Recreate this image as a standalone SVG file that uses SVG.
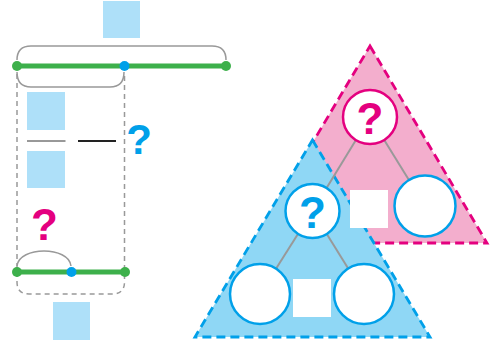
<svg xmlns="http://www.w3.org/2000/svg" width="491" height="343" viewBox="0 0 491 343">
<defs>
<style>
.box{fill:#aee0f9}
.wbox{fill:#ffffff}
.brace{fill:none;stroke:#999999;stroke-width:1.5}
.dash{fill:none;stroke:#999999;stroke-width:1.5;stroke-dasharray:5,4}
.seg{stroke:#3db04b;stroke-width:5;stroke-linecap:round}
.gdot{fill:#3db04b}
.bdot{fill:#00a0e9}
.q{font-family:"Liberation Sans",Arial,sans-serif;font-weight:bold;text-anchor:middle}
.qb{fill:#00a0e9}
.qp{fill:#e4007f}
.tri-p{fill:#f3aecd;stroke:#e4007f;stroke-width:2.8;stroke-dasharray:9,5;stroke-linejoin:miter}
.tri-b{fill:#8fd7f5;stroke:#00a0e9;stroke-width:2.8;stroke-dasharray:9,5;stroke-linejoin:miter}
.edge{stroke:#999999;stroke-width:2}
.cb{fill:#ffffff;stroke:#00a0e9;stroke-width:2.5}
.cp{fill:#ffffff;stroke:#e4007f;stroke-width:2.5}
</style>
</defs>

<g id="segment-diagram">
  <rect class="box" x="103" y="1" width="37" height="37"/>
  <path class="brace" d="M17,60 Q17,46 31,46 L212,46 Q226,46 226,60"/>
  <path class="brace" d="M17,72 Q17,87 31,87 L110,87 Q124,87 124,72"/>
  <path class="dash" d="M17,74 L17,282 Q17,294 29,294 L112,294 Q124.5,294 124.5,282 L124.5,74"/>
  <line class="seg" x1="17" y1="66" x2="226" y2="66"/>
  <circle class="gdot" cx="17" cy="66" r="5"/>
  <circle class="gdot" cx="226" cy="66" r="5"/>
  <circle class="bdot" cx="124.5" cy="66" r="5"/>

  <rect class="box" x="27" y="92" width="38" height="38"/>
  <line x1="27" y1="141" x2="65.5" y2="141" stroke="#333333" stroke-width="1"/>
  <rect class="box" x="27" y="151" width="38" height="37"/>
  <line x1="78" y1="141" x2="116" y2="141" stroke="#222222" stroke-width="2.2"/>
  <text class="q qb" x="139" y="154" font-size="42">?</text>

  <text class="q qp" x="44.5" y="240" font-size="44">?</text>
  <path class="brace" d="M17,266 C19,246 69,246 71,266"/>
  <line class="seg" x1="17" y1="272" x2="125" y2="272"/>
  <circle class="gdot" cx="17" cy="272" r="5"/>
  <circle class="gdot" cx="125" cy="272" r="5"/>
  <circle class="bdot" cx="71.5" cy="272" r="5"/>
  <rect class="box" x="53" y="302" width="37" height="38"/>
</g>

<g id="triangle-pink">
  <polygon class="tri-p" points="370,46 487,243 253,243"/>
</g>
<g id="triangle-blue">
  <polygon class="tri-b" points="312.5,140 430,337 195,337"/>
</g>

<g id="connectors">
  <line class="edge" x1="370" y1="117" x2="312.5" y2="211"/>
  <line class="edge" x1="370" y1="117" x2="425" y2="206"/>
  <line class="edge" x1="312.5" y1="211" x2="260" y2="294"/>
  <line class="edge" x1="312.5" y1="211" x2="364" y2="294"/>
</g>

<g id="node-top">
  <circle class="cp" cx="370" cy="117" r="27"/>
  <text class="q qp" x="370" y="134" font-size="44">?</text>
</g>
<g id="node-right">
  <circle class="cb" cx="425" cy="206" r="30.5"/>
</g>
<g id="square-upper">
  <rect class="wbox" x="350" y="190" width="38" height="38"/>
</g>
<g id="node-mid">
  <circle class="cb" cx="312.5" cy="211" r="27"/>
  <text class="q qb" x="312.5" y="228" font-size="44">?</text>
</g>
<g id="node-left-bottom">
  <circle class="cb" cx="260" cy="294" r="30"/>
</g>
<g id="node-right-bottom">
  <circle class="cb" cx="364" cy="294" r="30"/>
</g>
<g id="square-lower">
  <rect class="wbox" x="293" y="279" width="38" height="38"/>
</g>
</svg>
